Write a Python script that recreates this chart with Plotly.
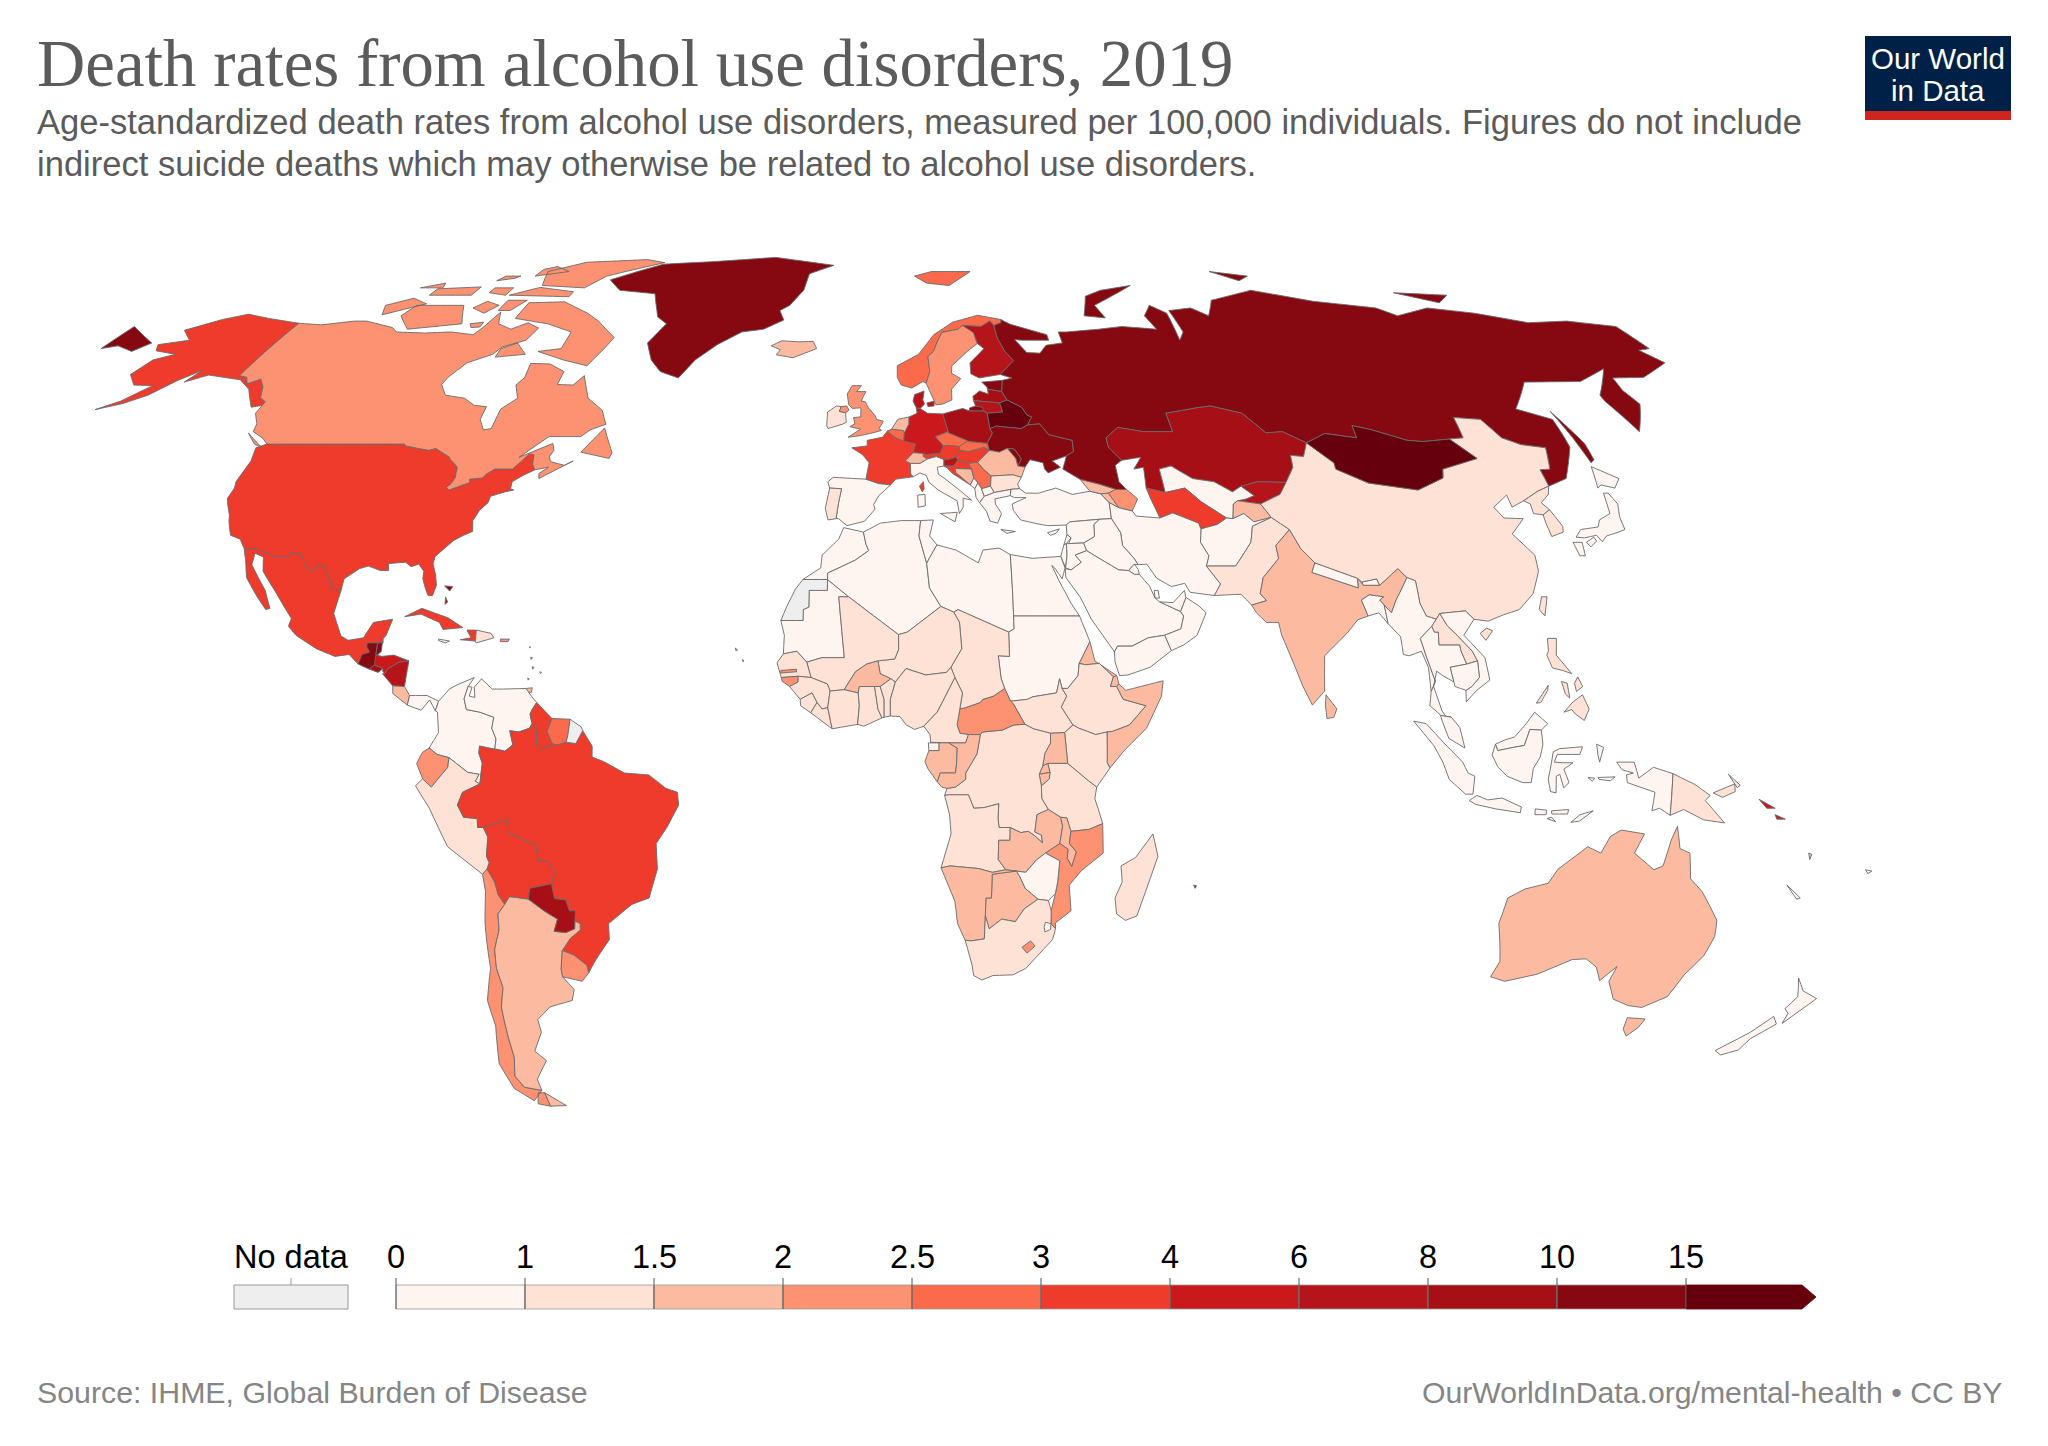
import math
import plotly.graph_objects as go

# ---------------------------- text ----------------------------
TITLE = "Death rates from alcohol use disorders, 2019"
SUBTITLE_1 = "Age-standardized death rates from alcohol use disorders, measured per 100,000 individuals. Figures do not include"
SUBTITLE_2 = "indirect suicide deaths which may otherwise be related to alcohol use disorders."
SOURCE = "Source: IHME, Global Burden of Disease"
LICENSE = "OurWorldInData.org/mental-health • CC BY"

# ---------------------------- legend ----------------------------
BIN_LABELS = ["0", "1", "1.5", "2", "2.5", "3", "4", "6", "8", "10", "15"]
BIN_EDGES = [0, 1, 1.5, 2, 2.5, 3, 4, 6, 8, 10, 15, 20]
BIN_COLORS = ["#FFF5F0", "#FEE2D5", "#FCBBA1", "#FC9272", "#FB6A4A", "#EF3B2C",
              "#CB181D", "#B5151A", "#A50F15", "#860811", "#67000D"]
NO_DATA_COLOR = "#EEEEEE"

# ---------------------------- data ----------------------------
COUNTRY_CODES = [
 "USA","CAN","GRL","MEX","GTM","BLZ","SLV","HND","NIC","CRI","PAN","CUB","JAM","HTI","DOM","PRI","BHS","TTO",
 "COL","VEN","GUY","SUR","ECU","PER","BRA","BOL","CHL","ARG","PRY","URY",
 "ISL","IRL","GBR","FRA","ESP","PRT","BEL","NLD","DEU","DNK","NOR","SWE","FIN","EST","LVA","LTU","POL","BLR","UKR","MDA",
 "ROU","HUN","SVK","CZE","AUT","CHE","ITA","SVN","HRV","BIH","SRB","MNE","ALB","MKD","BGR","GRC","TUR","CYP","GEO","ARM","AZE",
 "RUS","KAZ","UZB","TKM","KGZ","TJK","AFG","PAK","IRN","IRQ","KWT","SYR","LBN","ISR","JOR","SAU","YEM","OMN","ARE","QAT",
 "IND","NPL","BTN","BGD","CHN","MNG","TWN","PRK","KOR","JPN","MMR","THA","LAO","VNM","KHM","MYS","IDN","PNG","PHL","LKA","AUS","NZL",
 "MAR","MRT","DZA","TUN","LBY","EGY","SDN","SSD","ERI","ETH","DJI","SOM","KEN","UGA","TZA","RWA","BDI","COD","CAF","TCD","NER","MLI","BFA",
 "SEN","GMB","GNB","GIN","SLE","LBR","CIV","GHA","TGO","BEN","NGA","CMR","GNQ","GAB","COG","AGO","ZMB","MWI","MOZ","ZWE","BWA","NAM",
 "ZAF","SWZ","LSO","MDG","MUS","SLB","VUT","FJI","NCL","CPV","ATG","DMA","LCA","BRB","GRD",
]
DEATH_RATES = [
 3.5,2.2,12.0,3.6,11.5,10.5,9.0,5.0,6.0,1.8,0.8,3.6,0.8,3.8,1.3,2.2,11.0,1.7,
 0.7,0.7,3.6,2.7,2.3,1.2,3.6,3.6,2.3,1.8,8.0,2.2,
 1.7,1.3,2.2,3.5,0.7,1.4,2.7,1.7,5.0,7.0,2.7,2.2,6.5,11.0,9.0,7.0,8.5,17.0,11.0,10.5,
 1.8,3.5,2.7,2.7,3.5,1.7,0.7,7.0,3.5,1.7,2.7,0.7,0.8,0.8,1.2,0.7,0.7,0.6,1.7,1.8,2.3,
 12.5,9.0,0.8,3.6,7.0,1.8,0.7,1.2,0.7,0.6,0.5,0.6,0.7,0.6,0.5,0.6,0.7,0.5,0.6,0.5,
 1.8,0.7,0.8,0.7,1.2,18.0,1.2,1.2,1.4,0.7,0.8,0.9,1.3,0.9,0.8,0.7,0.7,1.2,1.3,1.8,1.8,0.8,
 0.6,0.7,0.5,0.5,0.5,0.5,0.7,1.2,1.7,1.2,1.8,1.8,1.2,1.8,1.2,1.8,1.8,1.2,2.3,1.2,1.2,1.2,1.8,
 1.2,2.2,2.0,1.2,1.3,1.2,1.2,1.2,1.2,1.2,1.2,1.2,0.8,1.9,1.9,1.2,1.7,1.7,2.4,0.8,1.8,1.8,
 1.2,0.8,2.4,1.2,12.0,5.0,1.5,0.8,0.8,1.8,0.8,0.8,0.8,0.8,0.8,
]
NO_DATA_CODES = ["ESH", "GUF"]

OUTLINES = {
"USA":["-124.7 48.4 -123 49 -95.2 49 -94.6 48.7 -92 48.3 -89.6 48 -88.4 48.3 -84.9 46.9 -84.5 46.5 -83.6 46 -82.5 45.3 -82.1 43.6 -82.5 42.6 -83.1 42.1 -82.4 41.7 -78.9 42.9 -79.2 43.4 -76.8 43.6 -76.3 44.2 -75 45 -71.5 45 -70.3 46.2 -69.2 47.4 -68.2 47.3 -67.8 45.7 -67 44.9 -69 44 -70.7 43 -70.6 41.9 -69.9 41.7 -71.5 41.4 -74 40.7 -74.1 39.7 -75.3 38.5 -75.9 37.1 -76 36.9 -75.5 35.2 -77 34.6 -78.6 33.8 -79.9 32.6 -81.3 31.3 -81.4 30.2 -80.5 28.4 -80 26.8 -80.4 25.2 -81.2 25.2 -81.8 26.1 -82.7 27.8 -82.8 29 -84 30.1 -85.3 29.7 -86.5 30.4 -88 30.3 -89.6 30.2 -89.3 29.1 -90.8 29.1 -93.2 29.8 -94.7 29.4 -97.1 27.8 -97.2 25.9 -99.1 26.4 -99.5 27.5 -101.4 29.8 -102.5 29.8 -103.2 29 -104.5 29.6 -106.5 31.8 -108.2 31.8 -108.2 31.3 -111 31.3 -114.8 32.5 -117.1 32.5 -118.5 34 -120.6 34.6 -121.9 36.6 -122.5 37.8 -123.8 39.5 -124.4 40.4 -124.1 42 -124.5 43 -124 46.3",
 "-141 69.6 -141 60.3 -139 60 -137.5 58.9 -135.5 59.7 -133.4 58.4 -131.8 56.6 -130 55.9 -130 55.3 -132 55 -134 56.5 -136 58 -139.9 59.6 -144 60 -148 60.4 -151.7 59.2 -150.5 61.2 -153.5 59.5 -156.5 57 -160 55.6 -164.5 54.6 -161 56 -157.7 58.6 -162 58.7 -165.5 60.5 -164.5 63 -161 64 -166.5 64.6 -168 65.7 -162 66.5 -166.5 68.3 -161 70.3 -156.5 71.3 -150 70.5"],
"CAN":["-141 69.6 -135 69.3 -128 70 -125 70 -117 68.8 -115 68 -108 67.8 -102 68 -96 67.5 -95 69 -94 71.7 -92 69.5 -88 68.5 -85 69.7 -81.5 68.7 -82.5 66.5 -87 65.3 -88 64 -92.5 62.5 -94.5 60 -94.8 58.8 -92.5 57 -88 56.5 -85 55.3 -82.3 55.1 -82.2 53 -80.5 51.3 -79 51.5 -79 54.7 -76.6 56.5 -78.5 58.7 -77.5 60 -78 62.4 -73.5 62.3 -69.5 61 -69.5 58.8 -66 58.7 -64.5 60.3 -61.5 56.5 -57.5 54.5 -55.7 52.2 -58.5 51.3 -60 50.2 -66.5 50.2 -71 46.9 -65.2 49.1 -64.5 48 -65 47 -64.5 46.2 -61.5 45.6 -60 46.3 -63.5 44.6 -65.7 43.5 -66 44.3 -64.5 45.3 -67 44.9 -67.8 45.7 -68.2 47.3 -69.2 47.4 -70.3 46.2 -71.5 45 -75 45 -76.3 44.2 -76.8 43.6 -79.2 43.4 -78.9 42.9 -82.4 41.7 -83.1 42.1 -82.5 42.6 -82.1 43.6 -82.5 45.3 -83.6 46 -84.5 46.5 -84.9 46.9 -88.4 48.3 -89.6 48 -92 48.3 -94.6 48.7 -95.2 49 -123 49 -124.5 49.9 -127.5 51 -128 52.3 -130 54 -130 55.3 -130 55.9 -131.8 56.6 -133.4 58.4 -135.5 59.7 -137.5 58.9 -139 60 -141 60.3",
 "-80 73.7 -72 71.5 -68 70 -62 67 -63 65 -65 62 -71 63 -78 64.5 -73 65 -73 68 -80 69.5 -89 70.5 -89 73.5",
 "-117 73 -105 73 -101 69.5 -113 68.5 -118 71","-123 71.2 -115 73.3 -120 74.4 -125 73",
 "-90 77 -78 76.5 -75 79 -62 82.2 -68 83 -85 82.3 -93 80","-96 75 -80 74.7 -80 75.7 -90 76.6","-117 75 -106 75 -106 76.7 -117 76.3",
 "-95 79 -87 80 -92 81.2 -95 80.5","-87 63.5 -80.5 64 -84 66 -87 65","-59 47.7 -53 46.7 -52.7 47.6 -55.7 51.6","-128.3 50.8 -123.5 48.4 -125.5 49","-100 73.8 -96 73 -98 71.5 -102 72.5",
 "-95 74 -90 74 -92 72 -95 72","-99 69.5 -96 69.8 -96 68.9 -98 68.8","-122 76.5 -116 76.5 -117 77.5","-102 75.5 -97 75 -97 76.5 -102 76.5","-104 78 -100 78.5 -99 79 -103 79"],
"GRL":["-73 78.2 -68 76 -58 75.3 -55 72 -54 70.8 -51 69.5 -53.5 66 -51 63 -48 61 -43.5 59.9 -41 63 -37 65.7 -32 68 -27 68.5 -22.5 70.2 -24 72 -21.8 73 -19 76 -18.5 79.5 -12 81.5 -30 83.6 -47 82.5 -62 81.8 -66 80.5"],
"MEX":["-117.1 32.5 -114.8 32.5 -111 31.3 -108.2 31.3 -108.2 31.8 -106.5 31.8 -104.5 29.6 -103.2 29 -102.5 29.8 -101.4 29.8 -99.5 27.5 -99.1 26.4 -97.2 25.9 -97.8 22.4 -95.9 18.9 -94.5 18.2 -91.8 18.6 -90.4 21 -87 21.5 -87.8 19 -88.3 18.4 -88.2 17.8 -89.15 17.8 -91 17.8 -91 17.2 -90.4 16.4 -91.7 16 -92.2 14.5 -94 16 -96.5 15.7 -100 16.9 -104 19 -105.6 20.4 -105.3 21.6 -108.8 25.5 -112.3 29 -113 31.2 -114.8 31.8 -114.7 30 -111 26 -109.5 23.2 -110.2 23 -112.2 25 -115 28 -116 30.5"],
"GTM":["-92.2 14.5 -91.7 16 -90.4 16.4 -91 17.2 -91 17.8 -89.15 17.8 -89.2 15.9 -88.2 15.7 -89.3 14.4 -90.1 13.7"],
"BLZ":["-89.15 17.8 -88.2 17.8 -88.3 18.4 -88.3 16.5 -88.9 15.9 -89.2 15.9"],
"SLV":["-90.1 13.7 -89.3 14.4 -87.7 13.8 -88.5 13.2"],
"HND":["-89.2 15.9 -88.2 15.7 -86 15.9 -83.2 15 -84.9 14.8 -86.8 13.8 -87.3 13 -87.7 13.4 -87.7 13.8 -89.3 14.4"],
"NIC":["-83.2 15 -83.6 11 -85.7 11.1 -87.7 13 -87.3 13 -86.8 13.8 -84.9 14.8"],
"CRI":["-83.6 11 -82.6 9.6 -82.9 8.1 -85.6 9.9 -85.7 11.1"],
"PAN":["-82.6 9.6 -79.5 9.6 -77.4 8.7 -77.9 7.2 -79 8.9 -80.4 7.3 -82.9 8.1"],
"CUB":["-84.9 21.9 -82 23.2 -77 21.7 -74.2 20.2 -77.7 19.9 -78.5 21 -82 22.3"],
"JAM":["-78.3 18.4 -76.3 18.1 -77 17.8 -78.3 18.2"],
"HTI":["-73.4 19.8 -71.7 19.8 -71.7 18.1 -74.4 18.3 -72.5 18.6"],
"DOM":["-71.7 19.8 -69 19.3 -68.4 18.6 -71.5 17.8 -71.7 18.1"],
"PRI":["-67.2 18.4 -65.6 18.4 -65.8 18 -67.2 18"],
"BHS":["-78.5 26.7 -77 26.6 -77.4 25.9","-78 25 -77.5 24.2 -77.9 23.8"],
"TTO":["-61.9 10.7 -60.9 10.8 -61 10.1 -61.9 10.1"],
"COL":["-77.4 8.7 -75.6 10.6 -74.2 11.3 -71.3 12.4 -72.3 11 -72.9 9.1 -72.4 7.4 -70 7 -67.5 6.2 -67.8 4.5 -67 2.8 -67.2 1.2 -69.9 1.7 -70 0.6 -69.4 -1 -69.9 -4.2 -70.7 -3.8 -70 -2.7 -72 -2.4 -74 -1 -75.3 -0.1 -77.4 0.4 -78.8 1.4 -77.2 3.8 -77.5 7 -77.9 7.2"],
"VEN":["-72.3 11 -71.6 10.9 -72 9.5 -71 9.3 -71.2 10.9 -70 12.2 -68 10.6 -66 10.6 -62 10.7 -60.9 9.4 -60 8.5 -60.7 7.5 -61.1 6.7 -60.7 5.2 -61.1 4.5 -63 3.9 -64.6 4.1 -64 1.9 -65.4 0.9 -66.9 1.2 -67.2 1.2 -67 2.8 -67.8 4.5 -67.5 6.2 -70 7 -72.4 7.4 -72.9 9.1"],
"GUY":["-60 8.5 -57.2 6 -58 4 -57 2 -58.8 1.2 -59.9 2 -59.9 4.3 -60.7 5.2 -61.1 6.7 -60.7 7.5"],
"SUR":["-57.2 6 -54 5.9 -54.3 3.5 -54.6 2.3 -56 1.9 -57 2 -58 4"],
"ECU":["-75.3 -0.1 -77.4 0.4 -78.8 1.4 -80 0.7 -81 -1 -80 -3.4 -78.5 -4.7 -75.5 -1.6"],
"PER":["-74 -1 -75.3 -0.1 -75.5 -1.6 -78.5 -4.7 -80 -3.4 -81.3 -4.5 -79 -8 -76.2 -14 -70.4 -18.3 -69.5 -17.5 -69 -16.5 -69.4 -15.5 -68.9 -12.5 -69.6 -11 -70.6 -11 -70.6 -9.6 -73 -9.4 -74 -7.5 -73 -5.5 -69.9 -4.2 -70.7 -3.8 -70 -2.7 -72 -2.4"],
"BRA":["-69.9 -4.2 -69.4 -1 -70 0.6 -69.9 1.7 -67.2 1.2 -66.9 1.2 -65.4 0.9 -64 1.9 -64.6 4.1 -63 3.9 -61.1 4.5 -60.7 5.2 -59.9 4.3 -59.9 2 -58.8 1.2 -57 2 -56 1.9 -54.6 2.3 -52.9 2.1 -51.7 4.1 -50 1.7 -50 0 -48 -0.7 -44.3 -2.5 -40 -2.8 -37 -4.9 -35 -5.5 -34.8 -7.5 -37 -11 -39 -13.5 -39 -17.5 -40.8 -22 -44 -23 -48.5 -26 -48.7 -28.5 -52 -32 -53.4 -33.7 -53.5 -32.5 -55.6 -30.9 -57.6 -30.2 -55.8 -28.3 -53.8 -27 -53.7 -26 -54.6 -25.6 -54.3 -24 -55.4 -24 -55.9 -22.3 -57.9 -22.1 -58.2 -19.8 -57.5 -18 -58.4 -16.3 -60.2 -16.3 -60.5 -13.8 -62.5 -13 -65.3 -11.7 -65.4 -9.8 -69.6 -11 -70.6 -11 -70.6 -9.6 -73 -9.4 -74 -7.5 -73 -5.5"],
"BOL":["-69.4 -15.5 -69 -16.5 -69.5 -17.5 -68.4 -19.5 -68 -21.5 -67 -23 -66 -21.8 -62.6 -22.2 -62.2 -20.5 -58.2 -19.8 -57.5 -18 -58.4 -16.3 -60.2 -16.3 -60.5 -13.8 -62.5 -13 -65.3 -11.7 -65.4 -9.8 -69.6 -11 -68.9 -12.5"],
"CHL":["-70.4 -18.3 -69.5 -17.5 -68.4 -19.5 -68 -21.5 -67 -23 -68.4 -24.5 -68.6 -27 -70 -30 -70.4 -33 -70 -36 -71.3 -39 -71.8 -44 -72 -47 -73.3 -50 -72.3 -51.8 -69 -52.3 -70 -53 -71.5 -54 -74.5 -52 -75.5 -48 -73.5 -42 -73.6 -38 -71.5 -33 -71 -26 -70.2 -21","-70 -52.7 -68.6 -52.7 -68.6 -54.9 -71 -54.5"],
"ARG":["-66 -21.8 -67 -23 -68.4 -24.5 -68.6 -27 -70 -30 -70.4 -33 -70 -36 -71.3 -39 -71.8 -44 -72 -47 -73.3 -50 -72.3 -51.8 -69 -52.3 -69 -50.5 -65.8 -47.5 -67.5 -46 -65 -43 -65 -41 -62 -39 -57.5 -38 -56.7 -36.3 -58.4 -34.3 -58.4 -33.1 -57.6 -30.2 -55.8 -28.3 -53.8 -27 -53.7 -26 -54.6 -25.6 -54.8 -26.8 -56.5 -27.4 -58.6 -27.2 -57.7 -25.3 -60 -24 -62.6 -22.2","-68.6 -52.7 -65.2 -54.8 -68.6 -54.9"],
"PRY":["-57.9 -22.1 -55.9 -22.3 -55.4 -24 -54.3 -24 -54.6 -25.6 -54.8 -26.8 -56.5 -27.4 -58.6 -27.2 -57.7 -25.3 -60 -24 -62.6 -22.2 -62.2 -20.5 -58.2 -19.8"],
"URY":["-57.6 -30.2 -55.6 -30.9 -53.5 -32.5 -53.4 -33.7 -54.9 -35 -58.4 -34.3 -58.4 -33.1"],
"ISL":["-24.3 65.5 -22 66.4 -18 66.2 -14.6 66.3 -13.6 65 -18.8 63.4 -22.7 63.9 -22 64.8"],
"IRL":["-10 52 -10 54.2 -8.2 55.2 -7.2 55.1 -7.5 54.3 -6.2 54.1 -6 52.5 -6.8 52.2 -9.7 51.5"],
"GBR":["-5.5 50.1 -3.5 50.3 -1 50.7 1.3 51.2 0.8 51.5 1.7 52.7 0.3 53 0 53.6 -1.5 55 -2.1 55.9 -3 56 -2 57.6 -4 57.6 -3 58.6 -5 58.6 -6 57.2 -5.6 55.4 -4.8 54.8 -3 54.9 -3 53.4 -4.5 53.3 -4.2 52.3 -5.2 51.8 -3 51.4","-7.2 55.1 -6 55.2 -5.5 54.5 -6.2 54.1 -7.5 54.3"],
"FRA":["-1.8 43.4 -1.2 46 -2.5 47.3 -4.7 48.4 -1.6 48.7 -1.6 49.6 1.5 50.1 2.5 51.1 4.2 50 5.8 49.5 8.2 49 7.6 47.6 6 46.3 7 45.9 7 44.2 7.5 43.8 4 43.4 3 42.5 0.7 42.7","8.6 42.3 9.4 43 9.5 41.9 9.1 41.4"],
"ESP":["-9.2 43 -8.2 43.7 -1.8 43.4 0.7 42.7 3 42.5 0.7 40.8 -0.3 39.4 0 38.7 -2 36.8 -5.3 36.1 -6.9 37.2 -7.4 37.2 -7 39.7 -6.5 41.9 -8.8 42"],
"PRT":["-8.8 42 -6.5 41.9 -7 39.7 -7.4 37.2 -8.9 37 -9.5 38.8"],
"BEL":["2.5 51.1 3.4 51.4 5.8 51.2 6 50.8 5.8 49.5 4.2 50"],
"NLD":["3.4 51.4 4.7 53 7.1 53.4 7 52.2 6 50.8 5.8 51.2"],
"DEU":["7.1 53.4 8.8 54 8.7 54.9 9.5 54.8 11 54 14.2 53.9 14.7 52 15 51 12.3 50.2 13.8 48.7 13 47.5 10.2 47.3 9.6 47.5 7.6 47.6 8.2 49 5.8 49.5 6 50.8 7 52.2"],
"DNK":["8.7 54.9 8.1 56 8.5 57.1 10.6 57.7 10.2 56.2 10.5 55.5 9.5 54.8","11 55.7 12.6 56 12.5 55.2 11.2 55.1"],
"NOR":["4.9 60 5 62 10 64 14 67.5 19 69.8 25.5 71.1 31 70.3 30.8 69.7 28.9 69.2 28.2 70 25.7 69 21.3 69.2 20 68.5 16 67.9 14.5 66 13.5 64.5 12.1 63.6 12.2 61 11.2 59 10.5 59.3 8 58.2 5.7 58.7","11 79 16 80 27 80 20 77 14 77.5"],
"SWE":["11.2 59 12.2 61 12.1 63.6 13.5 64.5 14.5 66 16 67.9 20 68.5 21.3 69.2 23.6 67.9 24 65.9 21.5 64.6 17.3 62 17 60.7 18.9 59.8 16.6 58 16.4 56.2 14.3 55.5 12.9 55.4"],
"FIN":["21.3 69.2 25.7 69 28.2 70 28.9 69.2 29 66.9 30 64.5 31.5 62.9 27.8 60.5 23 59.9 21.3 60.6 21.5 62.5 25.3 65 24 65.9 23.6 67.9"],
"EST":["23.4 59.2 28 59.5 27.4 57.6 24.4 58 24.4 58.3"],
"LVA":["21 56.8 22.6 57.7 24.4 57.2 24.4 58 27.4 57.6 28.2 56.2 26.5 55.7 21 56.1"],
"LTU":["21 56.1 26.5 55.7 26.8 54.2 23.5 54 22.8 54.4 21.3 55.2"],
"POL":["14.2 53.9 18.5 54.8 19.8 54.4 22.8 54.4 23.5 54 23.6 52.6 23.6 51.5 24 50.8 22.7 49.1 19 49.4 18.8 49.5 15 50.8 15 51 14.7 52"],
"BLR":["23.5 54 26.8 54.2 26.5 55.7 28.2 56.2 31 55 31.8 53.7 32.7 53.4 31.5 52.1 30 51.5 25 51.9 23.6 51.5 23.6 52.6"],
"UKR":["24 50.8 23.6 51.5 25 51.9 30 51.5 31.5 52.1 34 52.3 35.5 50.5 40 49.6 39.8 47.8 38.2 47.1 35.2 46.3 36.6 45.3 34 44.4 33.4 45 33.3 46 30.8 46.5 29.6 45.3 28.2 45.5 29.1 46.6 28 48.2 26.6 48.3 24.9 47.7 22.9 48 22.7 49.1"],
"MDA":["26.6 48.3 28 48.2 29.1 46.6 28.2 45.5 28 46.7"],
"ROU":["22.9 48 24.9 47.7 26.6 48.3 28 46.7 28.2 45.5 29.6 45.3 28.6 43.7 27 44.1 22.7 43.9 21.4 44.9 20.3 46.1"],
"HUN":["16.1 46.9 17 48 18.8 47.8 22 48.5 22.9 48 20.3 46.1 18.5 45.9 16.5 46.4"],
"SVK":["17 48 16.9 48.6 18.8 49.5 19 49.4 22.7 49.1 22.9 48 22 48.5 18.8 47.8"],
"CZE":["12.3 50.2 15 51 15 50.8 18.8 49.5 16.9 48.6 14.8 48.8 13.8 48.7"],
"AUT":["9.6 47.5 10.2 47.3 13 47.5 13.8 48.7 14.8 48.8 16.9 48.6 17 48 16.1 46.9 14.5 46.5 13.7 46.5 12.2 47 10.4 46.6 9.6 47"],
"CHE":["6 46.3 7.6 47.6 9.6 47.5 9.6 47 10.4 46.6 8.9 45.9 7 45.9"],
"ITA":["7 44.2 7 45.9 8.9 45.9 10.4 46.6 12.2 47 13.7 46.5 13.6 45.5 12.3 45.3 12.4 44.2 13.6 43.5 16 41.9 18.5 40.1 16.9 40.4 16.8 39 16 38 15.7 40 12.2 41.7 10.5 42.9 10 44 8.8 44.4 7.5 43.8","12.4 38 15.6 38.2 15.1 36.7","8.2 39 9.6 39.2 9.6 41 8.2 40.9"],
"SVN":["13.7 46.5 14.5 46.5 16.1 46.9 16.5 46.4 15.5 45.5 13.6 45.5"],
"HRV":["13.6 45.5 15.5 45.5 16.5 46.4 18.5 45.9 19 45 15.8 45.1 15.8 44.5 18.5 42.5 15.2 44.3 14.2 45.2"],
"BIH":["15.8 45.1 19 45 19.3 43.6 18.5 42.5 15.8 44.5"],
"SRB":["19 45 18.5 45.9 20.3 46.1 21.4 44.9 22.7 43.9 22.4 42.3 20.6 41.9 20 42.8 19.3 43.6"],
"MNE":["18.5 42.5 19.3 43.6 20 42.8 19.3 41.9"],
"ALB":["19.3 41.9 20 42.8 20.6 41.9 21 40.7 20 39.7 19.4 40.5"],
"MKD":["20.6 41.9 22.4 42.3 23 41.3 21 40.7"],
"BGR":["22.7 43.9 27 44.1 28.6 43.7 27.7 42.6 28 41.9 26.3 41.8 23 41.3 22.4 42.3"],
"GRC":["20 39.7 21 40.7 23 41.3 26.3 41.8 26 40.8 23 40.3 23 39.5 24 38 23.1 36.5 21.7 36.8 21.2 38.3","23.6 35.5 26.3 35.2 24.7 34.9"],
"TUR":["26.3 41.8 28 41.9 29 41.2 31.5 41.2 35 42 38 41 41.5 41.5 43.5 41.1 44.8 39.7 44.7 37.2 42.4 37.1 36.8 36.7 36 36.2 32.5 36.1 30.5 36.4 27.5 37 26.3 38.5 26.2 39.5 29 40.5 26.8 40.5 26 40.8"],
"CYP":["32.3 35 34.6 35.6 33.9 34.9 32.8 34.6"],
"GEO":["40 43.4 43.7 42.6 46.6 41.8 45 41.2 43.5 41.1 41.5 41.5"],
"ARM":["43.5 41.1 45 41.2 46.5 38.9 44.8 39.7"],
"AZE":["45 41.2 46.6 41.8 48.6 41.8 50.4 40.3 48.9 38.4 46.5 38.9"],
"RUS":["27.8 60.5 31.5 62.9 30 64.5 29 66.9 28.9 69.2 30.8 69.7 31 70.3 33 69.4 41 67.5 41 66.5 35 66.5 33 66.6 35 64.3 38 64.2 40 65.6 44 66 44 68 46 68 54 68.5 60 69 68 68.5 67 71 70 73 73 71.5 72 66.5 74 68 74 72 80 72.5 83 71 87 74 100 76 113 73.8 127 72.5 130 71 140 72.5 150 71.5 160 69.7 170 70 180 69 180 65 177 64.7 179 62.5 170 60 163 59.9 162 57.8 162.5 55.5 156.7 51 155.7 56 156 57 163.5 61.5 155 59.3 142.5 59.2 135.2 54.7 141 53 140 48.5 135 43.5 130.7 42.3 131 44.9 133 45 135 48.4 130.5 48.9 127.5 50 126 53 120.7 53.3 119.7 50 116.7 49.8 111 49.4 108 49.6 102 51.3 98.5 52 98 50 92 50.7 87.3 49.2 83.5 51 80 50.8 77 54 71 55.2 68 54.9 61 54 61 51 55 51 50 51.7 47 50 47 48.5 49 46.4 47.5 45.6 47.5 43 48.6 41.8 46.6 41.8 43.7 42.6 40 43.4 37 45 38.2 47.1 39.8 47.8 40 49.6 35.5 50.5 34 52.3 31.5 52.1 32.7 53.4 31.8 53.7 31 55 28.2 56.2 27.4 57.6 28 59.5 30.2 59.9",
 "-180 69 -175 67.5 -170 66 -172 64.5 -177 65.5 -180 65","142 54.3 143.5 49 143 46.5 142 46 142 50","52 71 57 70.6 56 73 69 77 60 76 55 74.8",
 "95 80 104 79 100 78","137 75.5 150 75 145 73.5","19.8 54.4 22.8 54.4 22.7 55 21.3 55.2 20 54.9"],
"KAZ":["47 50 50 51.7 55 51 61 51 61 54 68 54.9 71 55.2 77 54 80 50.8 83.5 51 87.3 49.2 85.5 47 83 47.2 82.5 45.3 80 42.9 74.5 43 71 42.3 69 41.4 66 43 62 43.5 58.5 45.5 56 45 56 41.3 52.5 42 53 45.3 51 45 53 46.9 49 46.4 47 48.5"],
"UZB":["56 45 58.5 45.5 62 43.5 66 43 69 41.4 71 42.3 73 40.8 71 40.2 69.5 40 68.5 39.5 67.7 37.2 66.5 37.3 62.5 39.8 60 42 56 41.3"],
"TKM":["52.5 42 56 41.3 60 42 62.5 39.8 66.5 37.3 64.5 36.3 61.2 35.6 61 36.5 56.5 38.1 53.9 37.3 53 40"],
"KGZ":["71 42.3 74.5 43 80 42.9 78 41 73.7 39.5 69.5 40 71 40.2 73 40.8"],
"TJK":["67.7 37.2 68.5 39.5 69.5 40 73.7 39.5 75 37.4 71.5 36.7 70 38"],
"AFG":["61.2 35.6 64.5 36.3 66.5 37.3 67.7 37.2 70 38 71.5 36.7 75 37.4 71 36 70 33.5 66.3 29.8 60.9 29.8 61.7 31.4 60.6 33.5"],
"PAK":["60.9 29.8 66.3 29.8 70 33.5 71 36 75 37.4 77.8 35.5 74.5 33 74.5 31 71 28 70 25.5 71 24.4 68.2 23.7 66.5 25.4 61.6 25.2 63 27"],
"IRN":["44.8 39.7 46.5 38.9 48.9 38.4 49.5 37.6 53.9 37.3 56.5 38.1 61 36.5 61.2 35.6 60.6 33.5 61.7 31.4 60.9 29.8 63 27 61.6 25.2 57.3 25.7 56.5 27.1 54 26.6 51.5 27.9 50 30.1 48.4 30 47.8 31 46 33 46 35 44.7 37.2"],
"IRQ":["42.4 37.1 44.7 37.2 46 35 46 33 47.8 31 48.4 30 47.7 30.1 46.5 29.1 44.7 29.2 41 31.2 39.2 32.2 38.8 33.4 41 34.4 41.2 36.3"],
"KWT":["46.5 29.1 47.7 30.1 48.3 29.3 48.4 28.5 47.5 28.5"],
"SYR":["36 36.2 36.8 36.7 42.4 37.1 41.2 36.3 41 34.4 38.8 33.4 36 33.3 36.6 34.2 35.9 34.7"],
"LBN":["35.9 34.7 36.6 34.2 35.6 33.3 35.1 33.1"],
"ISR":["35.1 33.1 35.6 33.3 35.5 31.5 35 29.5 34.3 31.3"],
"JOR":["35.6 33.3 36 33.3 38.8 33.4 39.2 32.2 37 31.5 38 30.4 36 29.2 35 29.5 35.5 31.5"],
"SAU":["34.9 29.4 36 29.2 38 30.4 37 31.5 39.2 32.2 41 31.2 44.7 29.2 46.5 29.1 47.5 28.5 48.4 28.5 50 26.7 50.8 24.8 51.6 24.2 55.2 22.7 55.7 22 55 20 52 19 49 18.6 46 17.3 43.4 17.3 42.8 16.4 39 21.5 37.2 25 34.9 28"],
"YEM":["42.8 16.4 43.4 17.3 46 17.3 49 18.6 52 19 53 16.6 49 14 45 12.8 43.5 12.7 42.8 14.8"],
"OMN":["55.7 22 55.2 22.7 56.4 24.9 58.6 23.6 59.8 22.5 57.8 19 55.3 17.5 53 16.6 52 19 55 20"],
"ARE":["51.6 24.2 54 24.1 56.3 26 56.4 24.9 55.2 22.7"],
"QAT":["50.8 24.8 51.6 24.8 51.5 26 50.8 26"],
"IND":["74.5 33 77.8 35.5 79 32.5 81 30.3 80.1 28.8 88 26.4 88.2 27.9 89 26.8 92 26.8 96 29.4 97.3 28 94.5 24.5 93.3 22.5 92.2 23.7 91.5 24.5 92.3 25 89.8 25.3 88.2 24.5 89 22 87 21.4 85 19.5 80.3 15.8 80 13 79.8 10.3 77.5 8.1 76 11 73 19 72.7 21 70.5 21 68.9 22.5 68.2 23.7 71 24.4 70 25.5 71 28 74.5 31"],
"NPL":["80.1 28.8 81 30.3 88.2 27.9 88 26.4"],
"BTN":["89 26.8 88.9 27.3 91.7 27.8 92 26.8"],
"BGD":["88.2 24.5 89.8 25.3 92.3 25 91.5 24.5 92.2 23.7 92.4 20.8 91 22.5 89 22"],
"CHN":["73.7 39.5 78 41 80 42.9 82.5 45.3 83 47.2 85.5 47 87.3 49.2 91 46 90.8 45 96 42.8 105 41.7 111 43.6 111.9 45 119.9 46.7 116.7 49.8 119.7 50 120.7 53.3 126 53 127.5 50 130.5 48.9 135 48.4 133 45 131 44.9 130.7 42.3 128 41.5 124.3 40 121.5 39 121.6 40.9 118 39 119 37.3 122.6 37.2 119.3 34.8 122 31.5 121.7 29 119.6 25.5 116.5 23 113.5 22.2 110.5 21.2 108 21.5 106.7 22.8 102 22.4 101.2 21.5 99.5 22 98.7 24 98.7 27.5 97.3 28 96 29.4 92 26.8 91.7 27.8 88.9 27.3 88.2 27.9 81 30.3 79 32.5 77.8 35.5 75 37.4","108.7 19.3 110 20.1 111 19.7 109.5 18.2"],
"MNG":["87.3 49.2 92 50.7 98 50 98.5 52 102 51.3 108 49.6 111 49.4 116.7 49.8 119.9 46.7 111.9 45 111 43.6 105 41.7 96 42.8 90.8 45 91 46"],
"TWN":["121 25 122 25 120.9 22 120.1 23"],
"PRK":["124.3 40 128 41.5 130.7 42.3 129.7 41 127.5 39.7 128.4 38.6 126.7 37.8 125 38 125.3 39.5"],
"KOR":["126.7 37.8 128.4 38.6 129.4 36 129 35.1 126.5 34.4 126.5 36.5"],
"JPN":["131 34.3 132.5 35.5 136 35.9 136.9 37 139.5 38 140 39.7 140.5 41.2 141.4 41.2 142 39.5 141 37.5 140.8 35.5 139 35 136.8 34.5 135.5 33.6 135 34.6 132.5 34.2","140 42 141.5 45.4 145.3 43.5 143.3 42 141 42.5","130 33.5 131.7 33.5 131.3 31.4 130.3 31.4","132.5 33.5 134.3 34.3 134.5 33.7 133 32.8"],
"MMR":["92.4 20.8 92.2 23.7 93.3 22.5 94.5 24.5 97.3 28 98.7 27.5 98.7 24 99.5 22 101.2 21.5 100.2 20.4 97.8 18.5 98.5 15.5 99.6 11.8 98.7 10.2 98.6 14 97.7 16.5 95.4 15.8 94.4 16 94.3 18.8"],
"THA":["97.8 18.5 100.2 20.4 100.5 19.5 101.2 19.5 101 17.5 104.7 17.5 104.8 16.5 105.5 14.5 102.5 14 102.9 11.7 101 12.7 100 13.4 99.2 11 100.4 7.2 101.1 6.3 102 6.2 100.1 6.5 99.6 7 98.3 8 98.7 10.2 99.6 11.8 98.5 15.5"],
"LAO":["101.2 21.5 102 22.4 103 20.5 104.5 19 106.8 16.5 107.5 15 105.5 14.5 104.8 16.5 104.7 17.5 101 17.5 101.2 19.5 100.5 19.5 100.2 20.4"],
"VNM":["102 22.4 106.7 22.8 108 21.5 105.7 19 108.9 15.5 109.3 12 106.8 10.4 104.8 8.6 104.9 10.4 106 11 107.5 12.4 107.5 15 106.8 16.5 104.5 19 103 20.5"],
"KHM":["102.5 14 105.5 14.5 107.5 15 107.5 12.4 106 11 104.9 10.4 103 11 102.9 11.7"],
"MYS":["100.1 6.5 102 6.2 103.4 4.6 104.2 1.4 101.4 2.9 100.4 5.5","109.6 2 111.4 2.7 113 3.1 115 5 116.8 7 119 5.2 117.8 4.2 115.8 4.3 114.7 1.8 112.8 1.5 110 1"],
"IDN":["109.6 2 110 1 112.8 1.5 114.7 1.8 115.8 4.3 117.8 4.2 118 2 117.5 0 116.3 -1.8 116 -4 114.5 -4 111.7 -3 110 -1.5 109 0.3",
 "95.3 5.6 97.5 5.2 100.5 2.2 103.8 -0.8 104.8 -2.5 106 -3 105.8 -5.8 104.5 -5.8 101.5 -3.5 100.3 -0.8 98.7 1.8",
 "105.2 -6.8 106.5 -6 108.5 -6.7 111 -6.4 114.5 -7.8 114.4 -8.7 110 -8.1 106.4 -7.4",
 "119.8 0.8 120.9 1.3 125 1.6 124.5 0.4 120.5 0.4 120 -0.8 121.5 -0.9 123.3 -0.9 121.7 -1.9 122.7 -4 121.8 -4.8 121 -2.7 120.4 -3 120.5 -5.6 119.5 -5.4 119 -3.5",
 "117 -8.1 119 -8.3 119 -9 117 -9","119.9 -8.4 122.9 -8.2 122.8 -8.9 120 -8.9","123.5 -10.2 125 -9 127.3 -8.4 125 -10","119.2 -9.6 120.8 -10.1 120 -9.4",
 "127.5 2 128.7 1.5 128 -0.8 127.7 0.3","127.8 -3.2 130.8 -3.1 130 -3.7 128 -3.5","126 -3.2 127.2 -3.3 126.8 -3.8",
 "131 -0.8 134.1 -0.8 135 -3.3 137.5 -1.6 141 -2.6 141 -9.1 139 -8 137.7 -8.4 138 -5.5 133 -4 132.8 -2.8 134 -2.5 132 -2"],
"PNG":["141 -2.6 145 -4.3 147.8 -6 147 -6.8 150.8 -10.3 147 -9.8 143.3 -8.2 141 -9.1","148.3 -5.6 152 -4.2 152.2 -5.4 150 -6.3","150.8 -2.7 153 -4.4 152.5 -4.8"],
"PHL":["120.4 16.5 120.6 18.5 122.2 18.5 121.7 15.9 124 13 122.5 13.5 120.7 13.9 120 15.9","122 7 123.6 8.5 125.5 9.7 126.5 7.5 125.5 5.7 124 6.7 123.4 7.4","125 12.5 125.7 11 124.5 10.2 124.3 11.5","122 11.8 123 11.5 123.2 9.2 122.5 9.8","117.2 8.4 119.6 11.2 119.4 10.4 118 8.5"],
"LKA":["80 9.7 81.8 7.5 81.2 6.2 80 6 79.8 8"],
"AUS":["114.2 -22 113.5 -26 115.7 -31.9 115 -34.3 118 -35 123.5 -33.9 129 -31.6 131.5 -31.5 134 -32.8 135.7 -34.9 137.8 -32.7 137.5 -35 140 -37.8 143.5 -38.8 146.3 -39.1 150 -37.4 151 -34 153 -31 153.6 -28 153 -25.5 150.8 -23 149 -21 146.4 -19 145.4 -15 143.5 -14.3 142.5 -10.8 141.7 -13 141 -17 139.5 -17.6 135.5 -15 136.8 -12 132.6 -11.4 130.8 -12.4 129.5 -15 127 -14 125 -15.5 122.3 -17.5 121 -19.7 117 -20.6","144.7 -40.7 148.3 -40.9 148 -42.3 146.8 -43.6 145.3 -42.5"],
"NZL":["172.7 -34.5 175 -36.5 178.5 -37.7 177 -39.5 175.3 -41.6 175 -40 173.8 -39.3 174.7 -37.4","172.7 -40.5 174.3 -41.7 171.5 -44 171 -45.8 168.3 -46.6 166.5 -45.9 170.5 -43"],
"MAR":["-5.9 35.8 -2.2 35.1 -1.7 33.2 -1.2 32.2 -3.7 30.7 -8.7 28.7 -8.7 27.7 -13.2 27.7 -10 29.5 -9.8 31.5 -6.8 34"],
"ESH":["-8.7 27.7 -8.7 26 -12 26 -12 23.4 -13 23 -13 21.3 -17 21.3 -16 23.5 -14.5 26.2 -13.2 27.7"],
"MRT":["-8.7 27.7 -4.8 25 -6.6 25 -5.5 15.5 -9.5 15.5 -12.2 14.8 -14 16.5 -16.4 16.1 -16.3 19 -17 21.3 -13 21.3 -13 23 -12 23.4 -12 26 -8.7 26"],
"DZA":["-2.2 35.1 1 36.5 5 36.9 8.6 36.9 8.2 34.5 9.5 30.2 9.9 26.4 11.9 23.5 5.8 19.5 4.2 19.1 -4.8 25 -8.7 27.7 -8.7 28.7 -3.7 30.7 -1.2 32.2 -1.7 33.2"],
"TUN":["8.6 36.9 11 37 10.2 34.5 11.5 33.1 10 31 9.5 30.2 8.2 34.5"],
"LBY":["11.5 33.1 15 32.3 19 30.3 20 32.3 23 32.6 25 31.6 25 22 25 20 24 19.5 15 23 14.2 22.6 11.9 23.5 9.9 26.4 9.5 30.2 10 31"],
"EGY":["25 31.6 29 31 34.3 31.3 34.9 29.5 34.2 27.8 33 29.5 32.5 29.9 33.6 27.5 35.5 24 36.9 22 25 22"],
"SDN":["24 19.5 25 20 25 22 36.9 22 37.3 21 38.5 18 36.4 14.6 36.1 12.7 34.2 10.7 33.2 10.7 32.8 12.2 32.2 10 28 9.4 27 9 24 8.7 23 10.7 22.4 12.3 22 15.8 24 15.7"],
"SSD":["24 8.7 27 9 28 9.4 32.2 10 32.8 12.2 33.2 10.7 34 9.5 33 7.8 35 5 33.5 3.8 31 3.7 28 4.4 26.5 5.1 24.5 8.3"],
"ERI":["36.4 14.6 38.5 18 39.2 15 43 12.7 42.4 12.5 40 14.6 37.5 14.4"],
"ETH":["36.1 12.7 36.4 14.6 37.5 14.4 40 14.6 42.4 12.5 41.8 11 42.9 11 44 9 48 8 45 5 42 4 41 3.9 39 3.5 36 4.5 35 5 33 7.8 34 9.5 33.2 10.7 34.2 10.7"],
"DJI":["42.4 12.5 43 12.7 43.3 11.4 42.9 11 41.8 11"],
"SOM":["42.9 11 43.3 11.4 44.5 10.4 51.2 11.9 50.8 9.5 48 4.5 44 1 41.5 -1.7 41 -0.9 41 3.9 42 4 45 5 48 8 44 9"],
"KEN":["33.9 0.1 33.5 3.8 35 5 36 4.5 39 3.5 41 3.9 41 -0.9 41.5 -1.7 39.2 -4.7 37.7 -3.7 34 -1"],
"UGA":["31 3.7 33.5 3.8 33.9 0.1 34 -1 30.5 -1 29.6 -1.4 30 0.6 31 2.2"],
"TZA":["34 -1 37.7 -3.7 39.2 -4.7 38.9 -6.5 39.5 -8 40.4 -10.4 38 -11.3 34.8 -11.6 34 -9.5 32.9 -9.4 30.7 -8.2 29.5 -6.5 29.4 -4.5 30.8 -3.4 30.9 -2.4 30.5 -1"],
"RWA":["29.6 -1.4 30.5 -1 30.9 -2.4 29 -2.7"],
"BDI":["29 -2.7 30.9 -2.4 30.8 -3.4 29.4 -4.5"],
"COD":["12.3 -6 13 -5.9 16.5 -5.9 17.5 -8 19.3 -7.9 21.9 -7.3 21.8 -9.5 22 -11 24 -11 25.9 -11.8 27.2 -11.6 28.4 -12.3 29.8 -13.4 29.6 -12.2 28.4 -11.7 28.7 -9 30.7 -8.2 29.5 -6.5 29.4 -4.5 29 -2.7 29.6 -1.4 30 0.6 31 2.2 31 3.7 28 4.4 26.5 5.1 24.5 5 22.5 4.2 19 3.9 18.6 3.5 18 0.5 16 -2.5 16 -3.5 14.2 -4.7 12.7 -4.9"],
"CAF":["14.5 5 15 7.5 16 7.7 18.6 8.5 19.1 9 21 9.5 23 10.7 24 8.7 24.5 8.3 26.5 5.1 24.5 5 22.5 4.2 19 3.9 18.6 3.5 16.5 3.5 15 3.7"],
"TCD":["14.2 22.6 15 23 24 19.5 24 15.7 22 15.8 22.4 12.3 23 10.7 21 9.5 19.1 9 18.6 8.5 16 7.7 15 7.5 15.5 10 14.2 12.4 13.5 14 15.5 16.9 15.2 21"],
"NER":["4.2 19.1 5.8 19.5 11.9 23.5 14.2 22.6 15.2 21 15.5 16.9 13.5 14 12.7 13.2 9 12.8 5.5 13.8 3.6 11.7 2.8 12.2 0.9 13 0.5 15 3.5 15.3 4.2 16.8"],
"MLI":["-9.5 15.5 -5.5 15.5 -6.6 25 -4.8 25 4.2 19.1 4.2 16.8 3.5 15.3 0.5 15 -1.5 14.5 -3.5 13.3 -5.5 10.5 -8 10.3 -8.5 11.4 -11.4 12.4 -12.2 14.8"],
"BFA":["-5.5 10.5 -3.5 13.3 -1.5 14.5 0.5 15 0.9 13 2.8 12.2 0.9 11 -2.8 11 -3 10"],
"SEN":["-16.4 16.1 -14 16.5 -12.2 14.8 -11.4 12.4 -13.7 12.6 -16.7 12.4 -17.5 14.7"],
"GMB":["-16.8 13.5 -14 13.7 -14 13.3 -16.8 13.1"],
"GNB":["-16.7 12.4 -13.7 12.6 -13.7 11.7 -15.2 11 -16.5 11.8"],
"GIN":["-13.7 12.6 -11.4 12.4 -8.5 11.4 -8 10.3 -8.4 7.7 -9.4 7.5 -10.3 8.5 -11.2 10 -13.3 9 -15.2 11 -13.7 11.7"],
"SLE":["-13.3 9 -11.2 10 -10.3 8.5 -11.4 6.9 -13.2 8"],
"LBR":["-11.4 6.9 -10.3 8.5 -9.4 7.5 -8.4 7.7 -7.6 4.4"],
"CIV":["-8 10.3 -5.5 10.5 -3 10 -2.8 8 -3.1 5.1 -7.6 4.4 -8.4 7.7"],
"GHA":["-2.8 11 -0.1 11 0.5 7.5 1.2 6.1 -2 4.8 -3.1 5.1 -2.8 8 -3 10"],
"TGO":["-0.1 11 0.9 11 1.6 9 1.6 6.2 1.2 6.1 0.5 7.5"],
"BEN":["0.9 11 2.8 12.2 3.6 11.7 2.7 9 2.7 6.4 1.6 6.2 1.6 9"],
"NGA":["2.7 6.4 2.7 9 3.6 11.7 5.5 13.8 9 12.8 12.7 13.2 13.5 14 14.2 12.4 11 7 8.6 4.8 7 4.3 5.5 5 4.4 6.3"],
"CMR":["8.6 4.8 11 7 14.2 12.4 15.5 10 15 7.5 14.5 5 15 3.7 16.5 3.5 16 2.2 13 2.2 9.8 2.3 9.7 3.5"],
"GNQ":["9.4 2.2 11.3 2.2 11.3 1 9.5 1"],
"GAB":["9.5 1 11.3 1 11.3 2.2 13 2.2 14.5 1.4 14.4 -1 14.2 -2.5 11.5 -2.5 11 -3.9 9.3 -1.8 8.8 -0.7"],
"COG":["13 2.2 16 2.2 16.5 3.5 18.6 3.5 18 0.5 16 -2.5 16 -3.5 14.2 -4.7 12.7 -4.9 11.8 -4.7 11 -3.9 11.5 -2.5 14.2 -2.5 14.4 -1 14.5 1.4"],
"AGO":["12.3 -6 13 -5.9 16.5 -5.9 17.5 -8 19.3 -7.9 21.9 -7.3 21.8 -9.5 22 -11 24 -11 24 -13 22 -13 22 -16 23.4 -17.6 21 -18 18.5 -17.4 13.4 -17 11.8 -17.3 13.5 -12 13.2 -9"],
"ZMB":["22 -13 24 -13 24 -11 25.9 -11.8 27.2 -11.6 28.4 -12.3 29.8 -13.4 29.6 -12.2 28.4 -11.7 28.7 -9 30.7 -8.2 32.9 -9.4 33.3 -10.8 32.9 -13.5 30.4 -15 28.9 -16 27 -18 25.3 -17.8 23.4 -17.6 22 -16"],
"MWI":["32.9 -9.4 34 -9.5 34.8 -11.6 34.6 -13.5 35.9 -14.8 35.2 -17.1 34.3 -15.8 34.4 -14.4 32.9 -13.5 33.3 -10.8"],
"MOZ":["34.8 -11.6 38 -11.3 40.4 -10.4 40.7 -15 37 -17.7 34.9 -20 35.5 -24 32.8 -25.9 32.9 -26.8 32 -26 31.9 -24 32.5 -21.3 32.8 -19.5 33 -16.2 30.4 -15 32.9 -13.5 34.4 -14.4 34.3 -15.8 35.2 -17.1 35.9 -14.8 34.6 -13.5"],
"ZWE":["25.3 -17.8 27 -18 28.9 -16 30.4 -15 33 -16.2 32.8 -19.5 32.5 -21.3 31.3 -22.4 29.4 -22.2 27 -20.5 25.9 -18.6"],
"BWA":["21 -18.3 25.3 -17.8 25.9 -18.6 27 -20.5 29.4 -22.2 27 -23.7 25.5 -25.7 23 -25.3 20.8 -26.8 20 -24.8 20 -22 21 -22"],
"NAM":["11.8 -17.3 13.4 -17 18.5 -17.4 21 -18 23.4 -17.6 25.3 -17.8 21 -18.3 21 -22 20 -22 20 -28.4 17.5 -28.7 16.5 -28.6 15 -26 14.4 -22.5"],
"ZAF":["16.5 -28.6 17.5 -28.7 20 -28.4 20 -24.8 20.8 -26.8 23 -25.3 25.5 -25.7 27 -23.7 29.4 -22.2 31.3 -22.4 31.9 -24 32 -26 32.9 -26.8 32.5 -28.5 31 -30 28 -33 25.7 -34 22 -34.1 20 -34.8 18.4 -34.1 18 -32.5"],
"SWZ":["31 -25.8 32 -26 32 -26.9 31 -27.3 30.8 -26.5"],
"LSO":["28.5 -28.7 29.4 -29.5 28 -30.6 27 -29.7"],
"MDG":["49.4 -12 50.5 -15.5 47.5 -24.8 45.5 -25.5 43.8 -24.5 43.3 -22 44.4 -19.5 44 -17 46.5 -15.7"],
"GUF":["-54 5.9 -52 4.7 -51.7 4.1 -52.9 2.1 -54.6 2.3 -54.3 3.5"],
"MUS":["57.3 -20 57.8 -20.1 57.6 -20.5"],
"SLB":["156.5 -6.6 159.5 -8 158 -8","159.6 -9 161.5 -9.7 160 -9.7"],
"VUT":["166.6 -15 167.2 -15.2 167 -16"],
"FJI":["177.4 -17.6 178.6 -17.8 178 -18.2"],
"NCL":["164 -20 167 -22 166.4 -22.2"],
"CPV":["-25 17 -24.6 16.7 -24.9 16.6","-23.7 15.2 -23.4 15 -23.6 14.9"],
"ATG":["-61.9 17.2 -61.7 17.2 -61.8 17"],
"DMA":["-61.5 15.6 -61.2 15.5 -61.4 15.2"],
"LCA":["-61.1 14.1 -60.8 14 -61 13.7"],
"BRB":["-59.7 13.3 -59.4 13.2 -59.6 13"],
"GRD":["-61.8 12.3 -61.5 12.2 -61.7 12"],
}

# ---------------------------- helpers ----------------------------
W, H = 2048, 1446
def fx(px): return px / W
def fy(py): return 1 - py / H

def make_ring(text):
    n = [float(v) for v in text.split()]
    pts = list(zip(n[0::2], n[1::2]))
    area = sum(a[0]*b[1] - b[0]*a[1] for a, b in zip(pts, pts[1:] + pts[:1]))
    if area > 0:            # spherical fill needs exterior rings clockwise
        pts = pts[::-1]
    pts = pts + [pts[0]]
    out = [pts[0]]
    for a, b in zip(pts, pts[1:]):      # follow the parallels instead of great arcs
        steps = max(1, math.ceil(max(abs(b[0]-a[0]), abs(b[1]-a[1])) / 1.5))
        for k in range(1, steps + 1):
            out.append((a[0] + (b[0]-a[0])*k/steps, a[1] + (b[1]-a[1])*k/steps))
    return out

def bin_color(rate):
    for hi, col in zip(BIN_EDGES[1:], BIN_COLORS):
        if rate < hi:
            return col
    return BIN_COLORS[-1]

BORDER = dict(color="#6a6a6a", width=0.9)
fig = go.Figure()
def add_country(code, color, rate):
    lons, lats = [], []
    for r in OUTLINES[code]:
        ring = make_ring(r)
        lons += [p[0] for p in ring] + [None]
        lats += [p[1] for p in ring] + [None]
    fig.add_trace(go.Scattergeo(lon=lons[:-1], lat=lats[:-1], mode="lines", fill="toself",
                                fillcolor=color, line=BORDER, name=code,
                                text=f"{code}: {rate}", hoverinfo="text"))

for code, rate in zip(COUNTRY_CODES, DEATH_RATES):
    add_country(code, bin_color(rate), rate)
for code in NO_DATA_CODES:
    add_country(code, NO_DATA_COLOR, "No data")

fig.update_geos(
    domain=dict(x=[0, 1], y=[fy(1277), fy(237)]),
    projection=dict(type="robinson", scale=0.995),
    center=dict(lon=26.3, lat=0),
    visible=False, showland=False, showocean=False, showlakes=False, showrivers=False,
    showcountries=False, showcoastlines=False, showframe=False, showsubunits=False,
    bgcolor="white",
)

shapes, ann = [], []
def text(x, y, s, size, color, anchor="left", family="Liberation Sans"):
    ann.append(dict(x=fx(x), y=fy(y), xref="paper", yref="paper", text=s, showarrow=False,
                    xanchor=anchor, yanchor="middle", font=dict(family=family, size=size, color=color)))
def rect(x0, y0, x1, y1, fill, line=None, w=0):
    shapes.append(dict(type="rect", xref="paper", yref="paper", x0=fx(x0), x1=fx(x1), y0=fy(y0), y1=fy(y1),
                       fillcolor=fill, line=dict(color=line or fill, width=w), layer="above"))
def seg(x0, y0, x1, y1, color, w=1):
    shapes.append(dict(type="line", xref="paper", yref="paper", x0=fx(x0), x1=fx(x1), y0=fy(y0), y1=fy(y1),
                       line=dict(color=color, width=w), layer="above"))

# heading
text(34.5, 63, TITLE, 66.8, "#5b5b5b", family="Liberation Serif")
text(34.5, 122, SUBTITLE_1, 34.55, "#5b5b5b")
text(34.5, 164, SUBTITLE_2, 34.55, "#5b5b5b")
# logo
rect(1865, 36, 2011, 120, "#002147")
rect(1865, 111, 2011, 120, "#CE261E")
text(1938, 59, "Our World", 29.5, "#ffffff", "center")
text(1938, 90, "in Data", 29.5, "#ffffff", "center")
# footer
text(34.5, 1392, SOURCE, 30.3, "#858585")
text(2003.5, 1392, LICENSE, 30.2, "#858585", "right")

# legend
LABEL_Y = 1257.3
BAR_TOP, BAR_BOT, X0, STEP = 1285, 1309, 396, 129
rect(234, BAR_TOP, 348, BAR_BOT, NO_DATA_COLOR, "#999999", 1)
seg(291, 1278, 291, BAR_TOP, "#999999")
text(291, LABEL_Y, "No data", 32.5, "#000000", "center")
for i, (lab, col) in enumerate(zip(BIN_LABELS, BIN_COLORS)):
    x = X0 + i * STEP
    if i < len(BIN_LABELS) - 1:
        rect(x, BAR_TOP, x + STEP, BAR_BOT, col, "#999999", 0.8)
    else:
        tip = x + 116
        shapes.append(dict(type="path", xref="paper", yref="paper", layer="above", fillcolor=col,
                           line=dict(color=col, width=0.8),
                           path=f"M {fx(x)} {fy(BAR_TOP)} L {fx(tip)} {fy(BAR_TOP)} L {fx(tip+14)} {fy((BAR_TOP+BAR_BOT)/2)} "
                                f"L {fx(tip)} {fy(BAR_BOT)} L {fx(x)} {fy(BAR_BOT)} Z"))
    text(x, LABEL_Y, lab, 32.5, "#000000", "center")
for i in range(len(BIN_LABELS)):
    x = X0 + i * STEP
    seg(x, 1278, x, BAR_BOT, "#555555", 1)

fig.update_layout(width=W, height=H, margin=dict(l=0, r=0, t=0, b=0), paper_bgcolor="white",
                  shapes=shapes, annotations=ann, showlegend=False)
fig.write_html("out.html", config={"displayModeBar": False},
               post_script="document.body.style.margin='0';")
